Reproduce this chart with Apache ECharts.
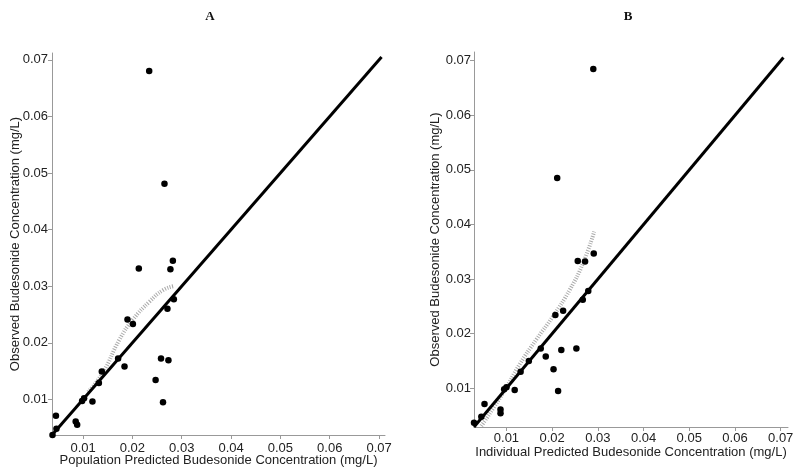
<!DOCTYPE html>
<html><head><meta charset="utf-8">
<script src="https://cdn.jsdelivr.net/npm/echarts@6/dist/echarts.min.js"></script>
<style>html,body{margin:0;padding:0;background:#fff}#c{width:800px;height:475px}</style>
</head><body><div id="c"></div>
<script>
// Panel A: population predicted vs observed
const predA = [0.0234,0.0265,0.0282,0.0213,0.0277,0.0284,0.0271,0.0190,0.0201,0.0171,0.0184,0.0258,0.0273,0.0138,0.0132,0.0247,0.0262,0.0119,0.0098,0.0102,0.0045,0.0085,0.0088,0.0046,0.0038];
const obsA  = [0.0680,0.0481,0.0345,0.0331,0.0330,0.0277,0.0260,0.0241,0.0233,0.0172,0.0158,0.0172,0.0169,0.0149,0.0129,0.0134,0.0095,0.0096,0.0097,0.0102,0.0071,0.0061,0.0055,0.0048,0.0037];
// Panel B: individual predicted vs observed
const predB = [0.0290,0.0211,0.0291,0.0256,0.0272,0.0279,0.0267,0.0207,0.0224,0.0175,0.0186,0.0220,0.0253,0.0149,0.0131,0.0203,0.0213,0.0118,0.0095,0.0100,0.0052,0.0087,0.0087,0.0045,0.0029];
const obsB  = [0.0685,0.0485,0.0347,0.0333,0.0332,0.0278,0.0262,0.0234,0.0242,0.0173,0.0158,0.0170,0.0173,0.0150,0.0130,0.0135,0.0095,0.0097,0.0098,0.0102,0.0071,0.0061,0.0054,0.0048,0.0037];
// Smooth (loess) trend lines
const smoothAx = [0.0110,0.0140,0.0174,0.0201,0.0235,0.0262,0.0283];
const smoothAy = [0.0113,0.0147,0.0206,0.0241,0.0273,0.0293,0.0300];
const smoothBx = [0.0045,0.0093,0.0129,0.0166,0.0202,0.0239,0.0268,0.0292];
const smoothBy = [0.0031,0.0092,0.0144,0.0190,0.0232,0.0281,0.0330,0.0387];
// Identity line ends
const identA = [0.0037, 0.0705];
const identB = [0.0029, 0.0706];
// Axis ranges and tick labels
const rangeA = [0.0037, 0.0712];
const rangeB = [0.0029, 0.0716];
const ticks = [0.01,0.02,0.03,0.04,0.05,0.06,0.07];
const titles = ['A','B'];
const xNames = ['Population Predicted Budesonide Concentration (mg/L)','Individual Predicted Budesonide Concentration (mg/L)'];
const yName = 'Observed Budesonide Concentration (mg/L)';

const zip = (a,b) => a.map((v,i)=>[v,b[i]]);
const font = 'Liberation Sans, Arial, Helvetica, sans-serif';
function axis(gi, range, name, margin, gap){
  return {
    type:'value', gridIndex:gi, min:range[0], max:range[1],
    name:name, nameLocation:'middle', nameGap:gap, nameMoveOverlap:false,
    nameTextStyle:{fontFamily:font,fontSize:13,color:'#222'},
    splitLine:{show:false},
    axisLine:{show:true,onZero:false,lineStyle:{color:'#999',width:1}},
    axisTick:{show:true,length:4,customValues:ticks,lineStyle:{color:'#999'}},
    axisLabel:{customValues:ticks,margin:margin,fontFamily:font,fontSize:13,color:'#222',
      formatter:v=>v.toFixed(2)}
  };
}
const chart = echarts.init(document.getElementById('c'),null,{renderer:'canvas'});
chart.setOption({
  animation:false,
  backgroundColor:'#fff',
  title:[
    {text:titles[0],left:205,top:5,textAlign:'center',textStyle:{fontFamily:'Liberation Serif, Times New Roman, serif',fontWeight:'bold',fontSize:13,color:'#111'}},
    {text:titles[1],left:623,top:5,textAlign:'center',textStyle:{fontFamily:'Liberation Serif, Times New Roman, serif',fontWeight:'bold',fontSize:13,color:'#111'}}
  ],
  grid:[
    {left:52,top:53,width:333,height:382,containLabel:false,outerBoundsMode:'none'},
    {left:474,top:52,width:314,height:375,containLabel:false,outerBoundsMode:'none'}
  ],
  xAxis:[axis(0,rangeA,xNames[0],7,19), axis(1,rangeB,xNames[1],5,19)],
  yAxis:[axis(0,rangeA,yName,4,30), axis(1,rangeB,yName,3,32)],
  series:[
    {type:'line',xAxisIndex:0,yAxisIndex:0,data:zip(identA,identA),showSymbol:false,lineStyle:{color:'#000',width:3},z:3},
    {type:'line',xAxisIndex:0,yAxisIndex:0,data:zip(smoothAx,smoothAy),smooth:true,showSymbol:false,lineStyle:{color:'#aaa',width:4,type:[1,1.5]},z:2},
    {type:'scatter',xAxisIndex:0,yAxisIndex:0,data:zip(predA,obsA),symbolSize:6.5,itemStyle:{color:'#000',opacity:1},z:4},
    {type:'line',xAxisIndex:1,yAxisIndex:1,data:zip(identB,identB),showSymbol:false,lineStyle:{color:'#000',width:3},z:3},
    {type:'line',xAxisIndex:1,yAxisIndex:1,data:zip(smoothBx,smoothBy),smooth:true,showSymbol:false,lineStyle:{color:'#aaa',width:4,type:[1,1.5]},z:2},
    {type:'scatter',xAxisIndex:1,yAxisIndex:1,data:zip(predB,obsB),symbolSize:6.5,itemStyle:{color:'#000',opacity:1},z:4}
  ]
});
</script></body></html>
